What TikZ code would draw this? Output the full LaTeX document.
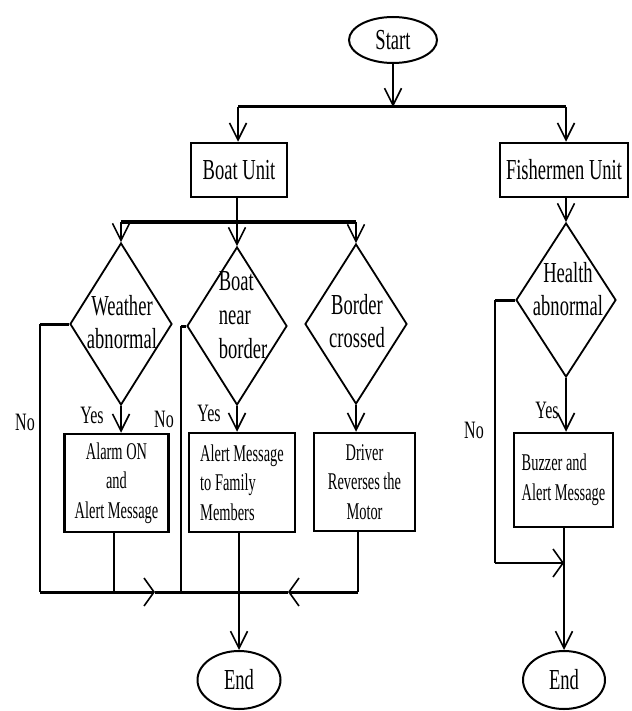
\documentclass[tikz,border=0pt]{standalone}
\usepackage{fontspec}
\setmainfont{Liberation Serif}[FakeStretch=0.64]
\newfontfamily\boxfont{Liberation Serif}[FakeStretch=0.6]
\usetikzlibrary{shapes.geometric,arrows.meta,calc}
\begin{document}
\begin{tikzpicture}[x=1pt,y=-1pt,
  conn/.style={line width=1.6pt},
  arr/.style={conn,-{Straight Barb[length=17pt,width=17pt,line width=1.6pt]}},
  barr/.style={bar,-{Straight Barb[length=10pt,width=28pt,line width=1.6pt]}},
  bar/.style={line width=3pt},
  procbox/.style={draw,line width=2.5pt,inner sep=0pt,font=\boxfont\fontsize{24}{29.5}\selectfont},
  decbox/.style={draw,diamond,line width=1.8pt,inner sep=0pt},
  term/.style={draw,ellipse,line width=2pt,inner sep=0pt,font=\fontsize{29}{33}\selectfont},
  dtext/.style={inner sep=0pt,align=center,font=\fontsize{29}{33}\selectfont},
  lbl/.style={inner sep=0pt,font=\fontsize{25}{28}\selectfont}]
\useasboundingbox (0,0) rectangle (631,711);

% terminals and units
\node[term,minimum width=88pt,minimum height=46pt] (start) at (393,40) {Start};
\node[procbox,font=\fontsize{29}{33}\selectfont,minimum width=96pt,minimum height=54pt] (boat) at (239,170) {Boat Unit};
\node[procbox,font=\fontsize{29}{33}\selectfont,minimum width=128pt,minimum height=54pt] (fish) at (564,170) {Fishermen Unit};

% decisions
\node[decbox,minimum width=102pt,minimum height=162pt] (wd) at (121,324) {};
\node[decbox,minimum width=100pt,minimum height=158pt] (bd) at (237,326) {};
\node[decbox,minimum width=102pt,minimum height=160pt] (cd) at (356,324) {};
\node[decbox,minimum width=100pt,minimum height=154pt] (hd) at (566,300) {};
\node[dtext] (wtx) at (122,322) {Weather\\abnormal};
\node[dtext,align=left,font=\fontsize{29}{34}\selectfont] (btx) at (243,315) {Boat\\near\\border};
\node[dtext] (ctx) at (357,321) {Border\\crossed};
\node[dtext] (htx) at (568,289) {Health\\abnormal};

% process boxes
\node[procbox,minimum width=104pt,minimum height=98pt,align=center] (alarm) at (116.5,483) {Alarm ON\\and\\Alert Message};
\node[procbox,minimum width=106pt,minimum height=99pt,align=left] (fam) at (242,482.5) {Alert Message\\to Family\\Members};
\node[procbox,minimum width=101pt,minimum height=98pt,align=center] (drv) at (364.5,482) {Driver\\Reverses the\\Motor};
\node[procbox,minimum width=99pt,minimum height=94pt,align=left] (buz) at (563.5,480) {Buzzer and\\Alert Message};

% end terminals
\node[term,minimum width=83pt,minimum height=58pt] (endL) at (239,680) {End};
\node[term,minimum width=82pt,minimum height=58pt] (endR) at (564,680) {End};

% labels
\node[lbl] (y1) at (92,415) {Yes};
\node[lbl] (y2) at (209,413) {Yes};
\node[lbl] (y3) at (547,410) {Yes};
\node[lbl] (n1) at (25,422) {No};
\node[lbl] (n2) at (164,419) {No};
\node[lbl] (n3) at (474,430) {No};

% coordinates
\coordinate (t) at (393,107);
\coordinate (tl) at (238,107);
\coordinate (tr) at (566,107);
\coordinate (b2) at (237,222);
\coordinate (b2l) at (121,222);
\coordinate (b2r) at (356,222);
\coordinate (bl) at (40,592);
\coordinate (al) at (114,592);
\coordinate (m1) at (155,592);
\coordinate (jn) at (239,592);
\coordinate (m2) at (288,592);
\coordinate (br) at (358,592);
\coordinate (nb) at (181,592);
\coordinate (rl) at (495,563);
\coordinate (m3) at (564,563);

% top
\draw[arr] (start.south) -- (t);
\draw[bar] (tl) -- (tr);
\draw[arr] (tl) -- (boat.north -| tl);
\draw[arr] (tr) -- (fish.north -| tr);

% boat unit branches
\draw[conn] (boat.south -| b2) -- (b2);
\draw[bar] (b2l) -- (b2r);
\draw[arr] (b2l) -- (wd.north);
\draw[arr] (b2) -- (bd.north);
\draw[arr] (b2r) -- (cd.north);

% yes arrows
\draw[arr] (wd.south) -- (wd.south |- alarm.north);
\draw[arr] (bd.south) -- (bd.south |- fam.north);
\draw[arr] (cd.south) -- (cd.south |- drv.north);

% no paths
\draw[bar] (wd.west) -- (wd.west -| bl);
\draw[conn] (wd.west -| bl) -- (bl);
\draw[bar] (bd.west) -- (bd.west -| nb);
\draw[conn] (bd.west -| nb) -- (nb);

% collector bar
\draw[conn] (al |- alarm.south) -- (al);
\draw[conn] (br |- drv.south) -- (br);
\draw[barr] (bl) -- (m1);
\draw[bar] (m1) -- (jn);
\draw[barr] (br) -- (m2);
\draw[bar] (m2) -- (jn);
\draw[arr] (fam.south -| endL.north) -- (endL.north);

% fishermen side
\draw[arr] (fish.south -| hd.north) -- (hd.north);
\draw[arr] (hd.south) -- (hd.south |- buz.north);
\draw[bar] (hd.west) -- (hd.west -| rl);
\draw[conn] (hd.west -| rl) -- (rl);
\draw[conn,-{Straight Barb[length=10pt,width=28pt,line width=1.6pt]}] (rl) -- (m3);
\draw[arr] (buz.south -| endR.north) -- (endR.north);
\end{tikzpicture}
\end{document}
